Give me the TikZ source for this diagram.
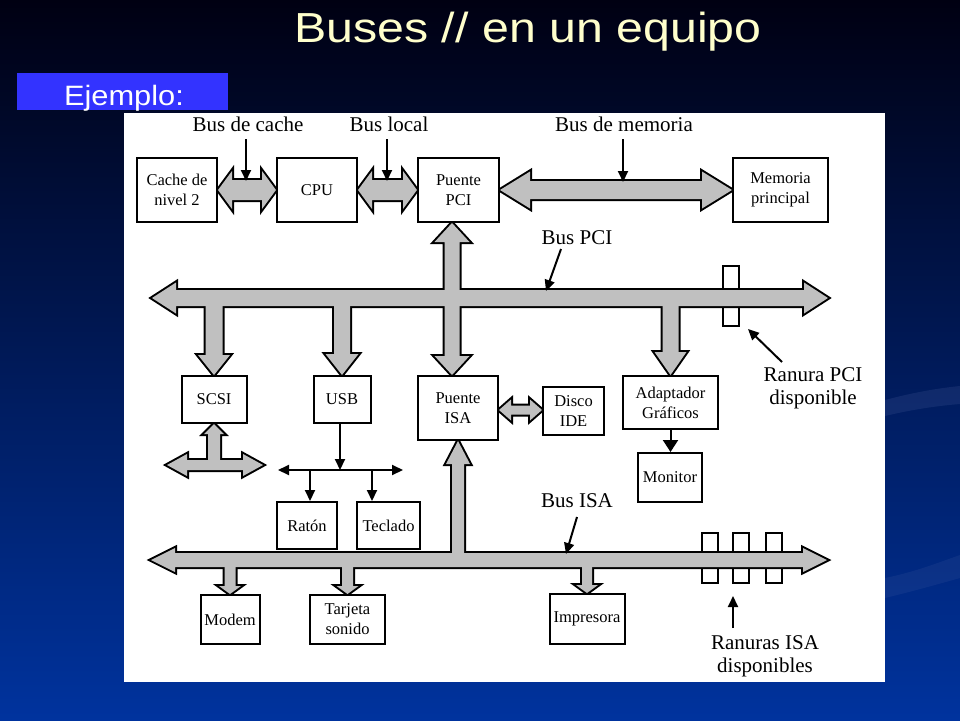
\documentclass[tikz,border=0pt]{standalone}
\usepackage{fontspec}
\setmainfont{Liberation Serif}
\newfontfamily\arialf{Liberation Sans}
\usetikzlibrary{arrows.meta,calc}
\pgfdeclarelayer{back}
\pgfdeclarelayer{bg}
\pgfsetlayers{back,bg,main}
\definecolor{busgray}{RGB}{192,192,192}
\definecolor{titleyellow}{RGB}{255,255,204}
\definecolor{ejblue}{RGB}{51,51,255}
\definecolor{bgtop}{RGB}{0,0,18}
\definecolor{bgmid}{RGB}{0,40,135}
\definecolor{bgbot}{RGB}{0,51,158}
\definecolor{swoosh}{RGB}{90,110,170}
% horizontal double fat arrow: left tip, right tip, shaft half, head half, head length
\newcommand{\hda}[5]{(#1) -- ($(#1)+(#5,#4)$) -- ($(#1)+(#5,#3)$) -- ($(#2)+(-#5,#3)$) -- ($(#2)+(-#5,#4)$) -- (#2) -- ($(#2)+(-#5,-#4)$) -- ($(#2)+(-#5,-#3)$) -- ($(#1)+(#5,-#3)$) -- ($(#1)+(#5,-#4)$) -- cycle}
% vertical double fat arrow: top tip, bottom tip
\newcommand{\vda}[5]{(#1) -- ($(#1)+(#4,#5)$) -- ($(#1)+(#3,#5)$) -- ($(#2)+(#3,-#5)$) -- ($(#2)+(#4,-#5)$) -- (#2) -- ($(#2)+(-#4,-#5)$) -- ($(#2)+(-#3,-#5)$) -- ($(#1)+(-#3,#5)$) -- ($(#1)+(-#4,#5)$) -- cycle}
% vertical single fat arrow downwards: flat start, bottom tip
\newcommand{\vsa}[5]{($(#1)+(-#3,0)$) -- ($(#1)+(#3,0)$) -- ($(#2)+(#3,-#5)$) -- ($(#2)+(#4,-#5)$) -- (#2) -- ($(#2)+(-#4,-#5)$) -- ($(#2)+(-#3,-#5)$) -- cycle}
% vertical single fat arrow upwards: flat start, top tip
\newcommand{\vua}[5]{($(#1)+(-#3,0)$) -- ($(#1)+(#3,0)$) -- ($(#2)+(#3,#5)$) -- ($(#2)+(#4,#5)$) -- (#2) -- ($(#2)+(-#4,#5)$) -- ($(#2)+(-#3,#5)$) -- cycle}
\newcommand{\fatall}[1]{%
 \path[#1] \hda{cache.east |- rowy}{cpu.west |- rowy}{10}{19}{14};
 \path[#1] \hda{cpu.east |- rowy}{ppci.west |- rowy}{10}{19}{14};
 \path[#1] \hda{ppci.east |- rowy}{mem.west |- rowy}{9}{18.5}{30};
 \path[#1] \hda{pciL}{pciR}{8}{15.5}{24};
 \path[#1] \vda{ppci.south -| pcix}{pisa.north -| pcix}{7.5}{17.5}{19};
 \path[#1] \vsa{scsi.north |- pciL}{scsi.north}{8.5}{16}{20};
 \path[#1] \vsa{usb.north |- pciL}{usb.north}{8}{16.5}{21};
 \path[#1] \vsa{adapt.north |- pciL}{adapt.north}{8}{16}{23};
 \path[#1] \hda{pisa.east |- diy}{disco.west |- diy}{4.5}{10.5}{12};
 \path[#1] \vua{scj}{scsi.south}{6}{10}{10};
 \path[#1] \hda{scl}{scr}{5}{11}{20};
 \path[#1] \hda{isaL}{isaR}{7}{12}{24};
 \path[#1] \vua{pisa.south |- isaL}{pisa.south}{6}{12}{23};
 \path[#1] \vsa{modem.north |- isaL}{modem.north}{5.5}{11}{8};
 \path[#1] \vsa{tarjeta.north |- isaL}{tarjeta.north}{5.5}{11}{8};
 \path[#1] \vsa{impresora.north |- isaL}{impresora.north}{5}{11}{8};
}
\begin{document}
\begin{tikzpicture}[x=1pt,y=-1pt,
  box/.style={draw=black, line width=2pt, fill=white, inner sep=0pt, align=center,
    font=\fontsize{16.5}{20}\selectfont},
  slotbox/.style={draw=black, line width=2pt, fill=white, inner sep=0pt, minimum width=16pt, minimum height=50pt},
  buslabel/.style={font=\fontsize{21}{23}\selectfont, anchor=base, inner sep=0pt, align=center},
  thinarrow/.style={line width=2pt, -{Triangle[length=11pt,width=10pt]}},
  boththin/.style={line width=2pt, {Triangle[length=11pt,width=10pt]}-{Triangle[length=11pt,width=10pt]}},
  monarrow/.style={line width=2pt, -{Triangle[length=12pt,width=15pt]}}]
\useasboundingbox (0,0) rectangle (960,720);
\begin{pgfonlayer}{back}
  \shade[top color=bgtop, middle color=bgmid, bottom color=bgbot] (0,0) rectangle (960,720);
  \fill[swoosh, opacity=0.18] (885,400) .. controls (915,392) and (940,388) .. (960,386) -- (960,404) .. controls (935,406) and (910,410) .. (885,416) -- cycle;
  \fill[swoosh, opacity=0.14] (885,578) .. controls (915,572) and (940,562) .. (960,555) -- (960,578) .. controls (935,585) and (910,592) .. (885,598) -- cycle;
  \fill[white] (124,113) rectangle (885,682);
\end{pgfonlayer}

% title and heading
\node[anchor=base, inner sep=0pt, text=titleyellow, font=\arialf\fontsize{42}{48}\selectfont] (title) at (528,42) {\scalebox{1.15}[1]{Buses // en un equipo}};
\fill[ejblue] (17,73) rectangle (228,110);
\node[anchor=base, inner sep=0pt, text=white, font=\arialf\fontsize{28}{32}\selectfont] (ejemplo) at (124,105) {\scalebox{1.1}[1]{Ejemplo:}};

% boxes
\node[box, minimum width=80pt, minimum height=64pt] (cache) at (177,190) {Cache de\\nivel 2};
\node[box, minimum width=80pt, minimum height=64pt] (cpu) at (317,190) {CPU};
\node[box, minimum width=81pt, minimum height=64pt] (ppci) at (458.5,190) {Puente\\PCI};
\node[box, minimum width=95pt, minimum height=64pt] (mem) at (780.5,190) {Memoria\\principal};
\node[box, minimum width=65pt, minimum height=47pt] (scsi) at (214,399.5) {SCSI};
\node[box, minimum width=57pt, minimum height=47pt] (usb) at (342,399.5) {USB};
\node[box, minimum width=80pt, minimum height=64pt] (pisa) at (458,408) {Puente\\ISA};
\node[box, minimum width=61pt, minimum height=48pt] (disco) at (573.5,411) {Disco\\IDE};
\node[box, minimum width=95pt, minimum height=53pt] (adapt) at (670.5,402.5) {Adaptador\\Gr\'aficos};
\node[box, minimum width=64pt, minimum height=49pt] (monitor) at (670,477.5) {Monitor};
\node[box, minimum width=60pt, minimum height=47pt] (raton) at (307,525.5) {Rat\'on};
\node[box, minimum width=63pt, minimum height=47pt] (teclado) at (388.5,525.5) {Teclado};
\node[box, minimum width=59pt, minimum height=49pt] (modem) at (230,619.5) {Modem};
\node[box, minimum width=75pt, minimum height=49pt] (tarjeta) at (347.5,619.5) {Tarjeta\\sonido};
\node[box, minimum width=75pt, minimum height=50pt] (impresora) at (587,619) {Impresora};

% reference coordinates
\coordinate (rowy) at (0,190);
\coordinate (pciL) at (152,298);
\coordinate (pciR) at (828,298);
\coordinate (isaL) at (151,560);
\coordinate (isaR) at (827,560);
\coordinate (pcix) at (452,0);
\coordinate (diy) at (0,410);
\coordinate (scj) at (214,465);
\coordinate (scl) at (167,465);
\coordinate (scr) at (263,465);

% slots and fat buses
\begin{pgfonlayer}{bg}
  \node[slotbox, minimum height=60pt] (pcislot) at (730.5,296) {};
  \node[slotbox] (isaslot1) at (709.5,558) {};
  \node[slotbox] (isaslot2) at (740.5,558) {};
  \node[slotbox] (isaslot3) at (773.5,558) {};
  \fatall{draw=black, line width=4pt, fill=busgray}
  \fatall{fill=busgray}
\end{pgfonlayer}

% labels and pointer arrows
\node[buslabel] (lcache) at (248,131) {Bus de cache};
\node[buslabel] (llocal) at (389,131) {Bus local};
\node[buslabel] (lmem) at (624,131) {Bus de memoria};
\node[buslabel] (lpci) at (577,244) {Bus PCI};
\node[buslabel] (lisa) at (577,507) {Bus ISA};
\node[buslabel] (lrpci) at (813,404) {Ranura PCI\\disponible};
\node[buslabel] (lrisa) at (765,672) {Ranuras ISA\\disponibles};

\coordinate (c1s) at (246,139); \coordinate (c1e) at (246,181);
\coordinate (c2s) at (387,139); \coordinate (c2e) at (387,181);
\coordinate (c3s) at (623,139); \coordinate (c3e) at (623,182);
\coordinate (p1s) at (561,249); \coordinate (p1e) at (546,291);
\coordinate (i1s) at (577,517); \coordinate (i1e) at (566,554);
\coordinate (r1s) at (782,362); \coordinate (r1e) at (748,329);
\coordinate (r2s) at (733,628); \coordinate (r2e) at (733,596);
\draw[thinarrow] (c1s) -- (c1e);
\draw[thinarrow] (c2s) -- (c2e);
\draw[thinarrow] (c3s) -- (c3e);
\draw[thinarrow] (p1s) -- (p1e);
\draw[thinarrow] (i1s) -- (i1e);
\draw[thinarrow] (r1s) -- (r1e);
\draw[thinarrow] (r2s) -- (r2e);

% USB connections
\coordinate (uj) at (340,470);
\coordinate (ul) at (278,470);
\coordinate (ur) at (403,470);
\coordinate (rj) at (310,470);
\coordinate (tj) at (372,470);
\draw[thinarrow] (usb.south -| uj) -- (uj);
\draw[boththin] (ul) -- (ur);
\draw[thinarrow] (rj) -- (rj |- raton.north);
\draw[thinarrow] (tj) -- (tj |- teclado.north);

% monitor
\draw[monarrow] (adapt.south) -- (adapt.south |- monitor.north);
\end{tikzpicture}
\end{document}
